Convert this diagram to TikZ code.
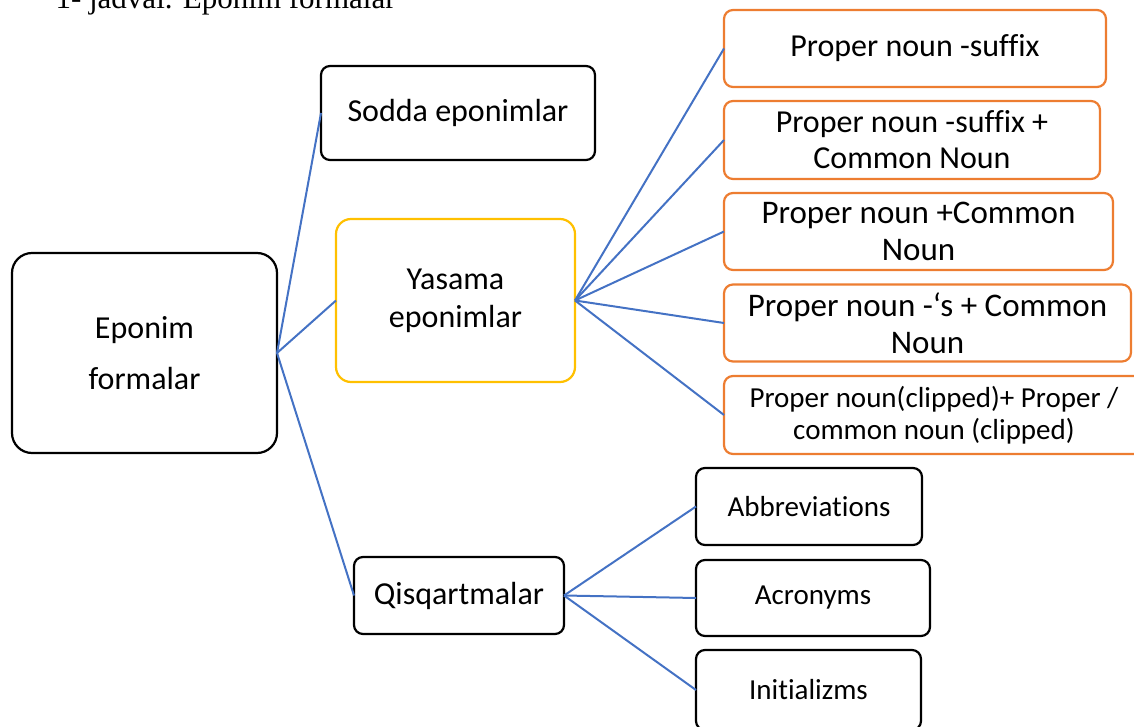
\documentclass[tikz,border=0pt]{standalone}
\usepackage{fontspec}
\setmainfont[RawFeature={-liga;-clig;-calt;-dlig}]{Carlito}
\newfontfamily\titlefont{Liberation Serif}
\definecolor{linkblue}{HTML}{4472C4}
\definecolor{boxorange}{HTML}{ED7D31}
\definecolor{boxyellow}{HTML}{FFC000}
\begin{document}
\begin{tikzpicture}[x=1pt,y=-1pt,
  box/.style={draw=black, line width=2.2pt, rounded corners=9pt, inner sep=0pt, outer sep=0pt, align=center, fill=white},
  obox/.style={box, draw=boxorange},
  ybox/.style={box, draw=boxyellow, rounded corners=15pt},
  link/.style={draw=linkblue, line width=2pt},
  f32/.style={font=\fontsize{32}{36}\selectfont},
  f33/.style={font=\fontsize{33}{36.7}\selectfont},
  f29/.style={font=\fontsize{29}{32.3}\selectfont}
]
\useasboundingbox (0,0) rectangle (1134,727);
\clip (0,0) rectangle (1134,727);

\node[anchor=base west, font=\titlefont\fontsize{31}{34}\selectfont] (title) at (52,9) {1- jadval. Eponim formalar};

\node[box, rounded corners=20pt, minimum width=265pt, minimum height=200pt, font=\fontsize{32}{51}\selectfont] (ep) at (144.5,353) {Eponim\\formalar};
\node[box, f32, minimum width=274pt, minimum height=94pt] (sodda) at (458,113) {Sodda eponimlar};
\node[ybox, minimum width=239pt, minimum height=163pt, font=\fontsize{32}{38}\selectfont] (yas) at (455.5,300.5) {Yasama\\eponimlar};
\node[box, f32, minimum width=210pt, minimum height=77pt] (qis) at (459,595.5) {Qisqartmalar};

\node[obox, f32, minimum width=382pt, minimum height=77pt] (o1) at (915,48.5) {\raisebox{-2pt}{Proper noun -suffix}};
\node[obox, f32, minimum width=376pt, minimum height=78pt] (o2) at (912,140) {Proper noun -suffix +\\Common Noun};
\node[obox, f33, minimum width=389pt, minimum height=77pt] (o3) at (918.5,231.5) {Proper noun +Common\\Noun};
\node[obox, f33, minimum width=407pt, minimum height=77pt] (o4) at (927.5,323) {Proper noun -‘s + Common\\Noun};
\node[obox, f29, minimum width=420pt, minimum height=78pt] (o5) at (934,415) {Proper noun(clipped)+ Proper /\\common noun (clipped)};

\node[box, f29, minimum width=226pt, minimum height=77pt] (abb) at (809,506.5) {Abbreviations};
\node[box, f29, minimum width=234pt, minimum height=76pt] (acr) at (813,598) {Acronyms};
\node[box, f29, minimum width=225pt, minimum height=80pt] (ini) at (808.5,690) {Initializms};

\path[link] (ep.east) -- (sodda.west);
\path[link] (ep.east) -- (yas.west);
\path[link] (ep.east) -- (qis.west);
\path[link] (yas.east) -- (o1.west);
\path[link] (yas.east) -- (o2.west);
\path[link] (yas.east) -- (o3.west);
\path[link] (yas.east) -- (o4.west);
\path[link] (yas.east) -- (o5.west);
\path[link] (qis.east) -- (abb.west);
\path[link] (qis.east) -- (acr.west);
\path[link] (qis.east) -- (ini.west);
\end{tikzpicture}
\end{document}
